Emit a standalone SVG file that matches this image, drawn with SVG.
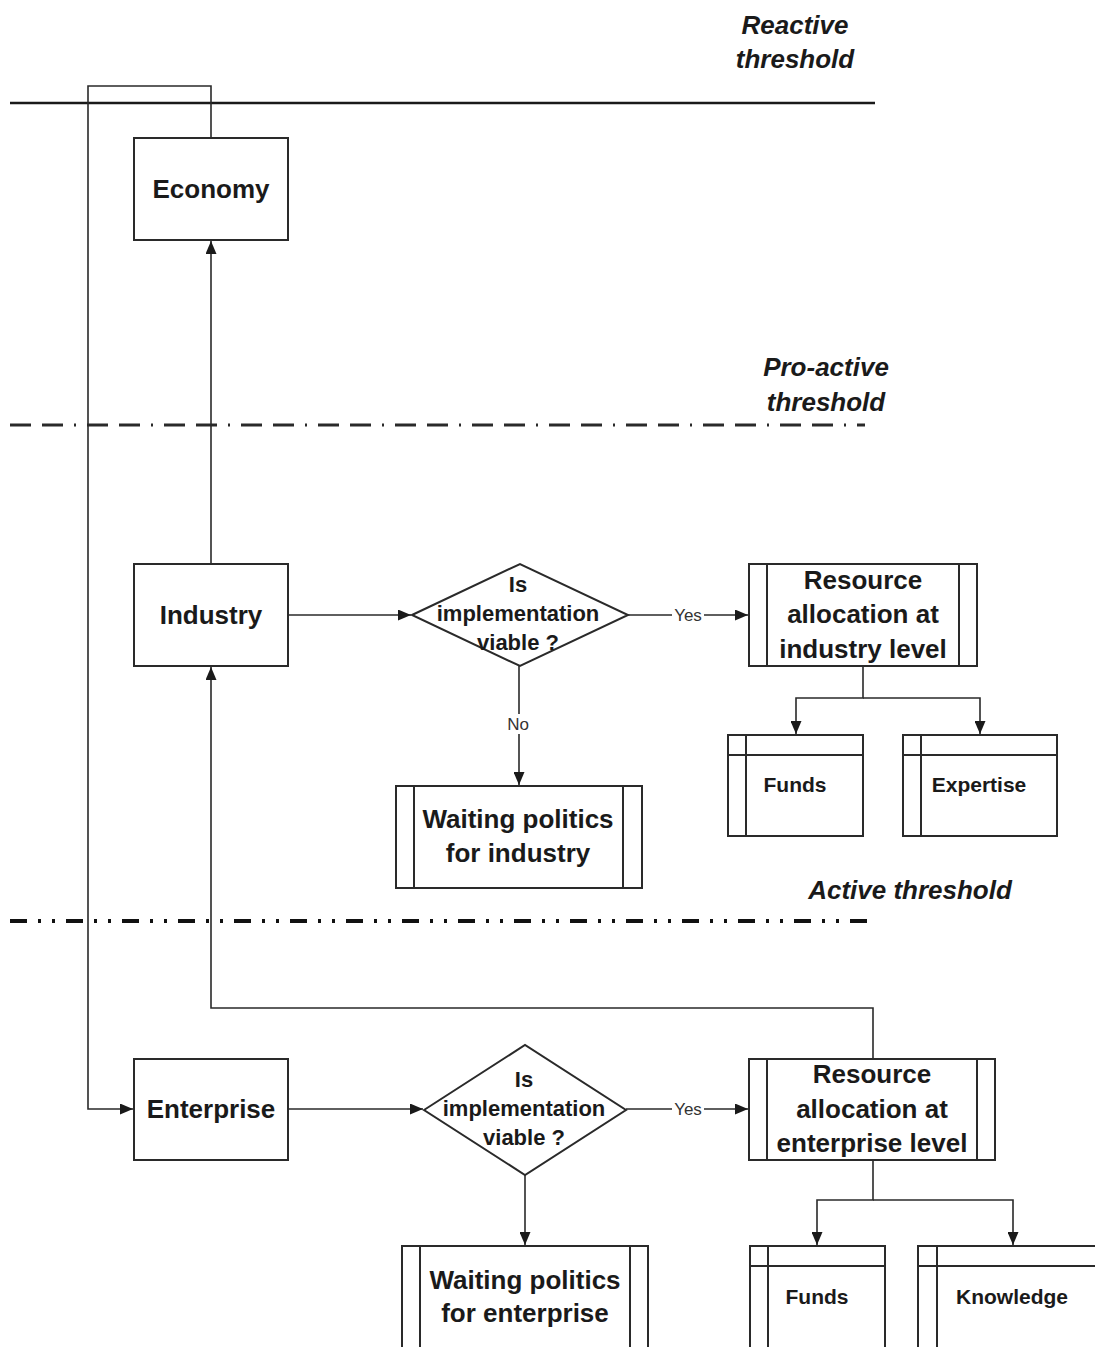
<svg xmlns="http://www.w3.org/2000/svg" width="1095" height="1347" viewBox="0 0 1095 1347">
<defs>
<marker id="arr" viewBox="0 0 13 11" refX="13" refY="5.5" markerWidth="13" markerHeight="11" markerUnits="userSpaceOnUse" orient="auto">
<path d="M0,0 L13,5.5 L0,11 z" fill="#1a1a1a"/>
</marker>
<style>
.box{fill:#fff;stroke:#2a2a2a;stroke-width:2}
.ln{fill:none;stroke:#2a2a2a;stroke-width:2}
.con{fill:none;stroke:#2a2a2a;stroke-width:1.6}
.big{font-family:"Liberation Sans",Arial,sans-serif;font-weight:bold;font-size:26px;fill:#1a1a1a;text-anchor:middle}
.mid{font-family:"Liberation Sans",Arial,sans-serif;font-weight:bold;font-size:21px;fill:#1a1a1a;text-anchor:middle}
.dia{font-family:"Liberation Sans",Arial,sans-serif;font-size:22px;font-weight:bold;fill:#1a1a1a;text-anchor:middle}
.lab{font-family:"Liberation Sans",Arial,sans-serif;font-size:17px;fill:#333;text-anchor:middle}
.th{font-family:"Liberation Sans",Arial,sans-serif;font-weight:bold;font-style:italic;font-size:26px;fill:#1a1a1a;text-anchor:middle}
</style>
</defs>
<rect width="1095" height="1347" fill="#fff"/>

<g id="thresholds">
<line x1="10" y1="103" x2="875" y2="103" stroke="#1a1a1a" stroke-width="2.5"/>
<line x1="10" y1="425" x2="865" y2="425" stroke="#2a2a2a" stroke-width="3" stroke-dasharray="21 11 21 11 2 11"/>
<line x1="10" y1="921" x2="873" y2="921" stroke="#111" stroke-width="4" stroke-dasharray="17 11 3 11 3 11"/>
<text class="th" x="795" y="34">Reactive</text>
<text class="th" x="795" y="68">threshold</text>
<text class="th" x="826" y="376">Pro-active</text>
<text class="th" x="826" y="411">threshold</text>
<text class="th" x="910" y="899">Active threshold</text>
</g>

<g id="connectors">
<polyline class="con" points="211,138 211,86 88,86 88,1109 133,1109" marker-end="url(#arr)"/>
<line class="con" x1="211" y1="564" x2="211" y2="241" marker-end="url(#arr)"/>
<line class="con" x1="288" y1="615" x2="411" y2="615" marker-end="url(#arr)"/>
<line class="con" x1="628" y1="615" x2="748" y2="615" marker-end="url(#arr)"/>
<polyline class="con" points="863,666 863,698 796,698 796,734" marker-end="url(#arr)"/>
<polyline class="con" points="863,698 980,698 980,734" marker-end="url(#arr)"/>
<line class="con" x1="519" y1="666" x2="519" y2="785" marker-end="url(#arr)"/>
<line class="con" x1="288" y1="1109" x2="423" y2="1109" marker-end="url(#arr)"/>
<line class="con" x1="626" y1="1109" x2="748" y2="1109" marker-end="url(#arr)"/>
<polyline class="con" points="873,1059 873,1008 211,1008 211,667" marker-end="url(#arr)"/>
<line class="con" x1="525" y1="1175" x2="525" y2="1245" marker-end="url(#arr)"/>
<polyline class="con" points="873,1160 873,1200 817,1200 817,1245" marker-end="url(#arr)"/>
<polyline class="con" points="873,1200 1013,1200 1013,1245" marker-end="url(#arr)"/>
<rect x="672" y="604" width="32" height="22" fill="#fff"/>
<text class="lab" x="688" y="621">Yes</text>
<rect x="672" y="1098" width="32" height="22" fill="#fff"/>
<text class="lab" x="688" y="1115">Yes</text>
<rect x="505" y="714" width="28" height="20" fill="#fff"/>
<text class="lab" x="518" y="730">No</text>
</g>

<g id="economy">
<rect class="box" x="134" y="138" width="154" height="102"/>
<text class="big" x="211" y="198">Economy</text>
</g>

<g id="industry">
<rect class="box" x="134" y="564" width="154" height="102"/>
<text class="big" x="211" y="624">Industry</text>
</g>

<g id="decision1">
<polygon class="box" points="412,615 520,564 628,615 520,666"/>
<text class="dia" x="518" y="592">Is</text>
<text class="dia" x="518" y="621">implementation</text>
<text class="dia" x="518" y="650">viable ?</text>
</g>

<g id="resource-industry">
<rect class="box" x="749" y="564" width="228" height="102"/>
<line class="ln" x1="767" y1="564" x2="767" y2="666"/>
<line class="ln" x1="959" y1="564" x2="959" y2="666"/>
<text class="big" x="863" y="589">Resource</text>
<text class="big" x="863" y="623">allocation at</text>
<text class="big" x="863" y="658">industry level</text>
</g>

<g id="funds-industry">
<rect class="box" x="728" y="735" width="135" height="101"/>
<line class="ln" x1="728" y1="755" x2="863" y2="755"/>
<line class="ln" x1="746" y1="735" x2="746" y2="836"/>
<text class="mid" x="795" y="792">Funds</text>
</g>

<g id="expertise">
<rect class="box" x="903" y="735" width="154" height="101"/>
<line class="ln" x1="903" y1="755" x2="1057" y2="755"/>
<line class="ln" x1="921" y1="735" x2="921" y2="836"/>
<text class="mid" x="979" y="792">Expertise</text>
</g>

<g id="waiting-industry">
<rect class="box" x="396" y="786" width="246" height="102"/>
<line class="ln" x1="414" y1="786" x2="414" y2="888"/>
<line class="ln" x1="623" y1="786" x2="623" y2="888"/>
<text class="big" x="518" y="828">Waiting politics</text>
<text class="big" x="518" y="862">for industry</text>
</g>

<g id="enterprise">
<rect class="box" x="134" y="1059" width="154" height="101"/>
<text class="big" x="211" y="1118">Enterprise</text>
</g>

<g id="decision2">
<polygon class="box" points="424,1110 525,1045 626,1110 525,1175"/>
<text class="dia" x="524" y="1087">Is</text>
<text class="dia" x="524" y="1116">implementation</text>
<text class="dia" x="524" y="1145">viable ?</text>
</g>

<g id="resource-enterprise">
<rect class="box" x="749" y="1059" width="246" height="101"/>
<line class="ln" x1="767" y1="1059" x2="767" y2="1160"/>
<line class="ln" x1="977" y1="1059" x2="977" y2="1160"/>
<text class="big" x="872" y="1083">Resource</text>
<text class="big" x="872" y="1118">allocation at</text>
<text class="big" x="872" y="1152">enterprise level</text>
</g>

<g id="waiting-enterprise">
<rect class="box" x="402" y="1246" width="246" height="120"/>
<line class="ln" x1="420" y1="1246" x2="420" y2="1366"/>
<line class="ln" x1="630" y1="1246" x2="630" y2="1366"/>
<text class="big" x="525" y="1289">Waiting politics</text>
<text class="big" x="525" y="1322">for enterprise</text>
</g>

<g id="funds-enterprise">
<rect class="box" x="750" y="1246" width="135" height="120"/>
<line class="ln" x1="750" y1="1266" x2="885" y2="1266"/>
<line class="ln" x1="768" y1="1246" x2="768" y2="1366"/>
<text class="mid" x="817" y="1304">Funds</text>
</g>

<g id="knowledge">
<rect class="box" x="918" y="1246" width="200" height="120"/>
<line class="ln" x1="918" y1="1266" x2="1118" y2="1266"/>
<line class="ln" x1="937" y1="1246" x2="937" y2="1366"/>
<text class="mid" x="1012" y="1304">Knowledge</text>
</g>
</svg>
